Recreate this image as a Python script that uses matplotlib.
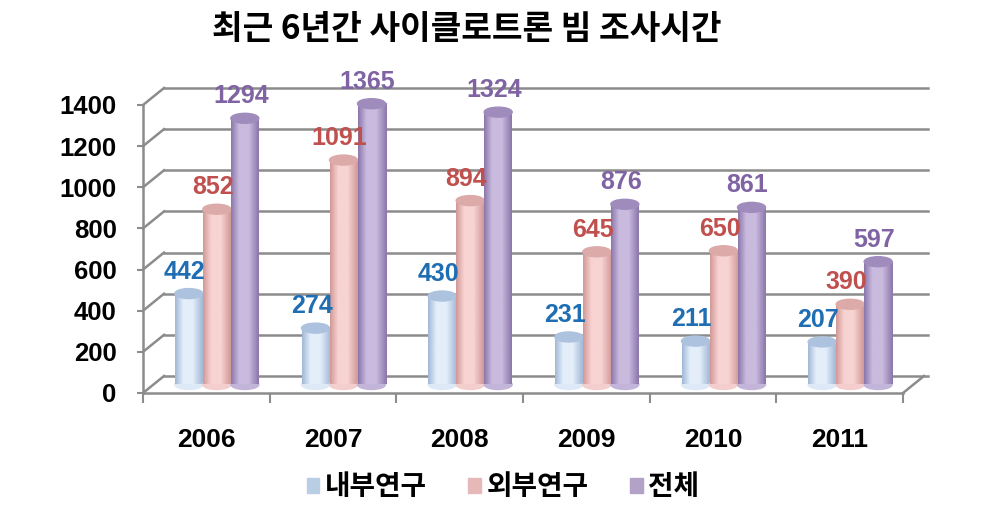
import numpy as np
import matplotlib
matplotlib.use('Agg')
import matplotlib.pyplot as plt
from matplotlib.patches import Ellipse, Patch
from matplotlib.colors import LinearSegmentedColormap

plt.rcParams['font.family'] = ['Liberation Sans', 'Noto Sans CJK KR']

# data
years = ['2006', '2007', '2008', '2009', '2010', '2011']
series_names = ['내부연구', '외부연구', '전체']
internal = [442, 274, 430, 231, 211, 207]
external = [852, 1091, 894, 645, 650, 390]
total = [1294, 1365, 1324, 876, 861, 597]
title = '최근 6년간 사이클로트론 빔 조사시간'

# colours: (edge, highlight, top) for each series, label colour
bar_colors = [('#a3b9d8', '#e4eefa', '#adc2de'),
              ('#d29a98', '#f7d3d2', '#dcaaa8'),
              ('#8d78ac', '#c9bade', '#9f8cbd')]
label_colors = ['#1f6db3', '#c0504d', '#7f63a3']
legend_colors = ['#b9cde5', '#e6b9b8', '#b3a2c7']
grid_color = '#8c8c8c'

W, H = 988, 509
fig = plt.figure(figsize=(W / 100, H / 100), dpi=100)

# front plane of the 3D box in pixels
x0_px, x1_px = 143, 903
y0_px, y1_px = 393, 105
ax = fig.add_axes([x0_px / W, 1 - y0_px / H, (x1_px - x0_px) / W, (y0_px - y1_px) / H])
n = len(years)
ymax = 1400
ax.set_xlim(0, n)
ax.set_ylim(0, ymax)

px_x = n / (x1_px - x0_px)       # data units per pixel
px_y = ymax / (y0_px - y1_px)
DX = 21 * px_x                    # depth offset
DY = 17 * px_y

# back wall gridlines and side diagonals
yt = np.arange(0, ymax + 1, 200)
for v in yt:
    ax.plot([DX, n + DX + 4 * px_x], [v + DY, v + DY], color=grid_color, lw=1.8, clip_on=False, zorder=1)
    ax.plot([0, DX], [v, v + DY], color=grid_color, lw=1.8, clip_on=False, zorder=1)
# floor
ax.plot([n, n + DX], [0, DY], color=grid_color, lw=1.8, clip_on=False, zorder=1)

# cylinders
bw = 28 * px_x
eh = 10 * px_y
cmaps = []
for edge, hi, top in bar_colors:
    cmaps.append(LinearSegmentedColormap.from_list('c', [edge, hi, hi, edge], N=64))
grad = np.concatenate([np.linspace(0, 0.45, 20), np.linspace(0.45, 1.0, 30)])[None, :]

values = [internal, external, total]
for i in range(n):
    xc = i + 0.5 + DX / 2
    base = DY / 2
    for k, vals in enumerate(values):
        cx = xc + (k - 1) * bw
        top_y = vals[i] + base
        ax.add_patch(Ellipse((cx, base), bw, eh, color=cmaps[k](0.7), zorder=3 + k, clip_on=False))
        ax.imshow(grad, cmap=cmaps[k], extent=[cx - bw / 2, cx + bw / 2, base, top_y],
                  aspect='auto', zorder=3 + k, interpolation='bilinear', clip_on=False)
        ax.add_patch(Ellipse((cx, top_y), bw, eh, color=bar_colors[k][2], zorder=3 + k, clip_on=False))
        ax.text(cx - 4 * px_x, top_y + 22 * px_y, str(vals[i]), color=label_colors[k],
                fontsize=18, fontweight='bold', ha='center', va='center', zorder=10)

ax.set_xlim(0, n)
ax.set_ylim(0, ymax)

# axes
for s in ['top', 'right']:
    ax.spines[s].set_visible(False)
ax.spines['left'].set_color(grid_color)
ax.spines['bottom'].set_color(grid_color)
ax.spines['left'].set_linewidth(1.8)
ax.spines['bottom'].set_linewidth(1.8)
ax.set_yticks(yt)
ax.set_yticklabels([str(v) for v in yt], fontsize=18.5, fontweight='bold')
ax.tick_params(axis='y', length=4, width=1.5, color=grid_color, pad=15)
ax.set_xticks(np.arange(0, n + 1))
ax.set_xticklabels([''] * (n + 1))
ax.tick_params(axis='x', which='major', length=7, width=1.5, color=grid_color, direction='out')
ax.set_xticks(np.arange(n) + 0.5, minor=True)
ax.set_xticklabels(years, minor=True, fontsize=19, fontweight='bold')
ax.tick_params(axis='x', which='minor', length=0, pad=25)
ax.set_facecolor('none')

fig.text(467 / W, 1 - 30 / H, title, fontsize=24, fontweight='bold', ha='center', va='center',
         family=['Noto Sans CJK KR'])

handles = [Patch(color=c) for c in legend_colors]
fig.legend(handles, series_names, loc='center', bbox_to_anchor=(503 / W, 1 - 487 / H), ncol=3,
           frameon=False, handlelength=0.45, handleheight=0.45, handletextpad=0.2, columnspacing=1.5,
           prop={'family': ['Noto Sans CJK KR'], 'weight': 'bold', 'size': 20})

fig.savefig('out.png', dpi=100)
